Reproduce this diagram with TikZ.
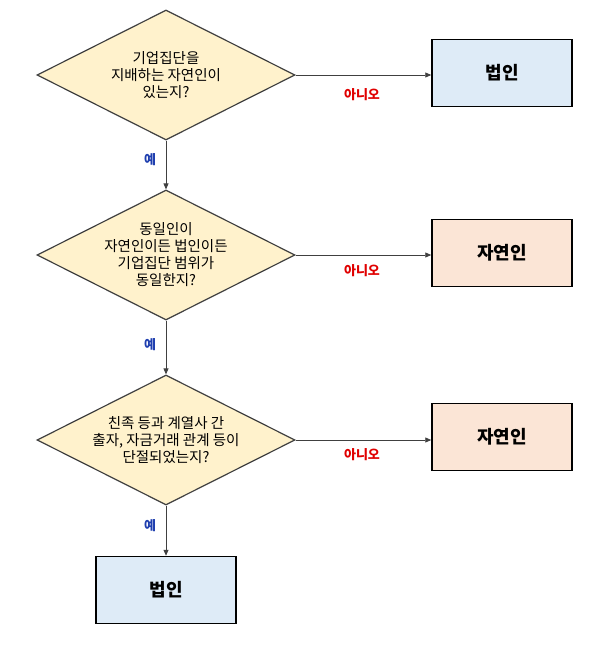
\documentclass[tikz,border=0pt]{standalone}
\usepackage{fontspec}
\setmainfont{Noto Sans CJK KR}
\usetikzlibrary{shapes.geometric,arrows.meta}
\definecolor{dfill}{HTML}{FFF2CC}
\definecolor{bfill}{HTML}{DEEBF7}
\definecolor{pfill}{HTML}{FBE5D6}
\definecolor{lc}{HTML}{404040}
\definecolor{nored}{HTML}{E00000}
\definecolor{yesblue}{HTML}{1F3FAF}
\begin{document}
\begin{tikzpicture}[x=1pt,y=-1pt,
  dec/.style={diamond,draw=lc,line width=1.2pt,fill=dfill,minimum width=258pt,minimum height=130pt,inner sep=0pt,align=center,font=\fontsize{14.5}{17}\selectfont,aspect=2},
  res/.style={rectangle,draw=black,line width=1.5pt,minimum width=140pt,minimum height=67pt,font=\fontsize{18}{21}\selectfont\bfseries},
  arr/.style={draw=lc,line width=0.8pt,-{Triangle[length=6pt,width=5pt]}},
  no/.style={text=nored,font=\fontsize{13}{15}\selectfont\bfseries},
  yes/.style={text=yesblue,font=\fontsize{13}{15}\selectfont\bfseries}]
\useasboundingbox (0,0) rectangle (600,650);
\node[dec] (d1) at (166,75) {기업집단을\\지배하는 자연인이\\있는지?};
\node[dec] (d2) at (166,255) {동일인이\\자연인이든 법인이든\\기업집단 범위가\\동일한지?};
\node[dec] (d3) at (166,440) {친족 등과 계열사 간\\출자, 자금거래 관계 등이\\단절되었는지?};
\node[res,fill=bfill] (b1) at (502,73) {법인};
\node[res,fill=pfill] (b2) at (502,253) {자연인};
\node[res,fill=pfill] (b3) at (502,437) {자연인};
\node[res,fill=bfill] (b4) at (166,590) {법인};
\draw[arr] (d1.east) -- (d1.east -| b1.west);
\draw[arr] (d2.east) -- (d2.east -| b2.west);
\draw[arr] (d3.east) -- (d3.east -| b3.west);
\draw[arr] (d1.south) -- (d2.north);
\draw[arr] (d2.south) -- (d3.north);
\draw[arr] (d3.south) -- (b4.north);
\node[no] (n1) at (362,95) {아니오};
\node[no] (n2) at (362,271) {아니오};
\node[no] (n3) at (362,455) {아니오};
\node[yes] (y1) at (150,160) {예};
\node[yes] (y2) at (150,345) {예};
\node[yes] (y3) at (150,526) {예};
\end{tikzpicture}
\end{document}
